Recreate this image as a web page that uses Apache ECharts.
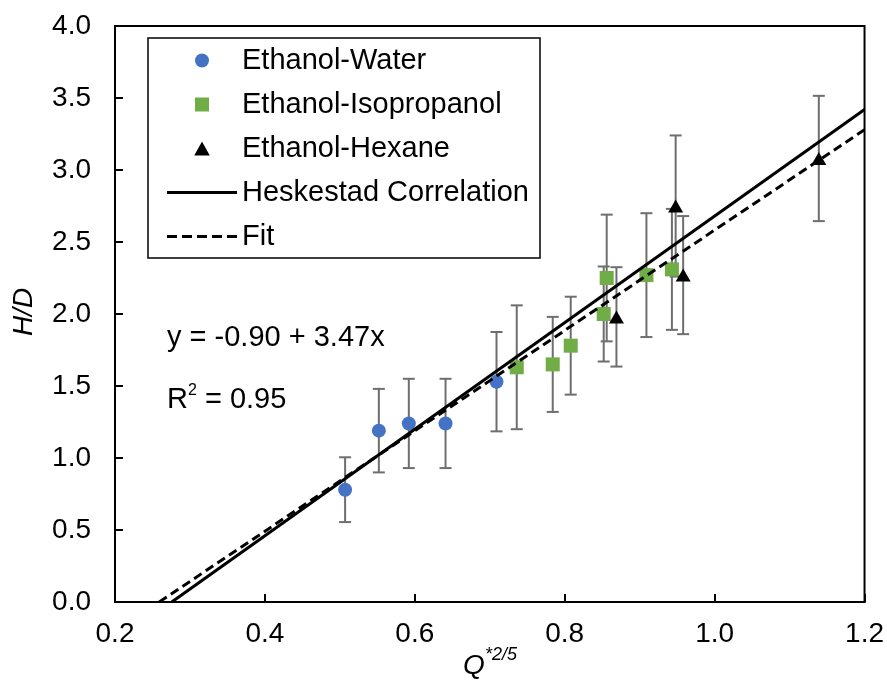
<!DOCTYPE html>
<html><head><meta charset="utf-8">
<script src="https://cdn.jsdelivr.net/npm/echarts@6/dist/echarts.min.js"></script>
<style>html,body{margin:0;padding:0;background:#fff}#c{width:887px;height:681px}</style>
</head><body><div id="c"></div>
<script>
// Data
const waterX = [0.507, 0.552, 0.592, 0.641, 0.709];
const waterY = [0.78, 1.19, 1.24, 1.24, 1.53];
const waterErr = [0.225, 0.29, 0.31, 0.31, 0.345];

const isoX = [0.736, 0.784, 0.808, 0.852, 0.856, 0.909, 0.943];
const isoY = [1.63, 1.65, 1.78, 2.00, 2.25, 2.27, 2.31];
const isoErr = [0.43, 0.33, 0.34, 0.33, 0.44, 0.43, 0.42];

const hexX = [0.869, 0.948, 0.958, 1.139];
const hexY = [1.98, 2.75, 2.27, 3.08];
const hexErr = [0.345, 0.49, 0.41, 0.435];

const heskX = [0.2757, 1.2];
const heskY = [0, 3.42];
const fitX = [0.259, 1.2];
const fitY = [0, 3.28];

const xTicks = [0.2, 0.4, 0.6, 0.8, 1.0, 1.2];
const yTicks = [0, 0.5, 1, 1.5, 2, 2.5, 3, 3.5, 4];

const FONT = "'Liberation Sans', Arial, sans-serif";

function pts(xs, ys) { return xs.map((x, i) => [x, ys[i]]); }
function errs(xs, ys, es) { return xs.map((x, i) => [x, ys[i] - es[i], ys[i] + es[i]]); }

function errRender(params, api) {
  const x = api.value(0), lo = api.value(1), hi = api.value(2);
  const p1 = api.coord([x, hi]), p2 = api.coord([x, lo]);
  const w = 6;
  const style = { stroke: '#6e6e6e', lineWidth: 2 };
  return { type: 'group', children: [
    { type: 'line', shape: { x1: p1[0], y1: p1[1], x2: p2[0], y2: p2[1] }, style },
    { type: 'line', shape: { x1: p1[0] - w, y1: p1[1], x2: p1[0] + w, y2: p1[1] }, style },
    { type: 'line', shape: { x1: p2[0] - w, y1: p2[1], x2: p2[0] + w, y2: p2[1] }, style }
  ]};
}

const ICON_SQUARE = 'path://M0,0h10v10h-10z';
const ICON_TRI = 'path://M5,0L10,9L0,9z';
const ICON_SOLID = 'path://M0,0h70v3h-70z';
const ICON_DASH = 'path://M0,0h10v3h-10zM15,0h10v3h-10zM30,0h10v3h-10zM45,0h10v3h-10zM60,0h10v3h-10z';

const chart = echarts.init(document.getElementById('c'));
chart.setOption({
  animation: false,
  backgroundColor: '#fff',
  grid: { left: 115, right: 22, top: 26, bottom: 79, show: true, borderColor: '#000', borderWidth: 2 },
  xAxis: {
    type: 'value', min: xTicks[0], max: xTicks[xTicks.length - 1], interval: 0.2,
    axisLine: { show: true, lineStyle: { color: '#000', width: 2 } },
    axisTick: { show: true, inside: true, length: 8, lineStyle: { color: '#000', width: 2 } },
    axisLabel: { color: '#000', fontSize: 28, fontFamily: FONT, margin: 18, formatter: v => v.toFixed(1) },
    splitLine: { show: false }
  },
  yAxis: {
    type: 'value', min: yTicks[0], max: yTicks[yTicks.length - 1], interval: 0.5,
    axisLine: { show: true, lineStyle: { color: '#000', width: 2 } },
    axisTick: { show: true, inside: true, length: 8, lineStyle: { color: '#000', width: 2 } },
    axisLabel: { color: '#000', fontSize: 28, fontFamily: FONT, margin: 24, formatter: v => v.toFixed(1) },
    splitLine: { show: false }
  },
  legend: {
    data: [
      { name: 'Ethanol-Water', icon: 'circle' },
      { name: 'Ethanol-Isopropanol', icon: ICON_SQUARE },
      { name: 'Ethanol-Hexane', icon: ICON_TRI },
      { name: 'Heskestad Correlation', icon: ICON_SOLID },
      { name: 'Fit', icon: ICON_DASH }
    ],
    orient: 'vertical', left: 167, top: 46, padding: 0, itemWidth: 70, itemHeight: 14, itemGap: 15,
    symbolKeepAspect: true,
    textStyle: { color: '#000', fontSize: 29, fontFamily: FONT },
    selectedMode: false
  },
  graphic: [
    { type: 'rect', shape: { x: 148, y: 38, width: 392, height: 220 }, style: { fill: '#fff', stroke: '#000', lineWidth: 1.5 }, z: 0 },
    { type: 'text', x: 167, y: 338, style: { text: 'y = -0.90 + 3.47x', font: '29px ' + FONT, fill: '#000', verticalAlign: 'middle' } },
    { type: 'text', x: 167, y: 383, style: { text: '{a|R}{b|2}{a| = 0.95}', fill: '#000', verticalAlign: 'top',
        rich: { a: { fontSize: 29, fontFamily: FONT, lineHeight: 31, verticalAlign: 'bottom' }, b: { fontSize: 16, fontFamily: FONT, lineHeight: 16, verticalAlign: 'top' } } } },
    { type: 'text', x: 24, y: 312, rotation: Math.PI / 2, style: { text: 'H/D', font: 'italic 28px ' + FONT, fill: '#000', align: 'center', verticalAlign: 'middle' } },
    { type: 'text', x: 490, y: 646, style: { text: '{q|Q}{s|*2/5}', fill: '#000', align: 'center', verticalAlign: 'top',
        rich: { q: { fontSize: 28, fontFamily: FONT, fontStyle: 'italic', lineHeight: 34, verticalAlign: 'bottom' }, s: { fontSize: 18, fontFamily: FONT, fontStyle: 'italic', lineHeight: 18, verticalAlign: 'top' } } } }
  ],
  series: [
    { name: 'errW', type: 'custom', renderItem: errRender, data: errs(waterX, waterY, waterErr), z: 2, silent: true },
    { name: 'errI', type: 'custom', renderItem: errRender, data: errs(isoX, isoY, isoErr), z: 2, silent: true },
    { name: 'errH', type: 'custom', renderItem: errRender, data: errs(hexX, hexY, hexErr), z: 2, silent: true },
    { name: 'Ethanol-Water', type: 'scatter', data: pts(waterX, waterY), symbol: 'circle', symbolSize: 14, itemStyle: { color: '#4472C4', opacity: 1 }, z: 3 },
    { name: 'Ethanol-Isopropanol', type: 'scatter', data: pts(isoX, isoY), symbol: 'rect', symbolSize: 14, itemStyle: { color: '#70AD47', opacity: 1 }, z: 3 },
    { name: 'Ethanol-Hexane', type: 'scatter', data: pts(hexX, hexY), symbol: 'triangle', symbolSize: [15, 13], itemStyle: { color: '#000', opacity: 1 }, z: 3 },
    { name: 'Heskestad Correlation', type: 'line', data: pts(heskX, heskY), symbol: 'none', lineStyle: { color: '#000', width: 3, type: 'solid' }, itemStyle: { color: '#000' }, z: 4 },
    { name: 'Fit', type: 'line', data: pts(fitX, fitY), symbol: 'none', lineStyle: { color: '#000', width: 3, type: [9, 5] }, itemStyle: { color: '#000' }, z: 4 }
  ]
});
</script>
</body></html>
